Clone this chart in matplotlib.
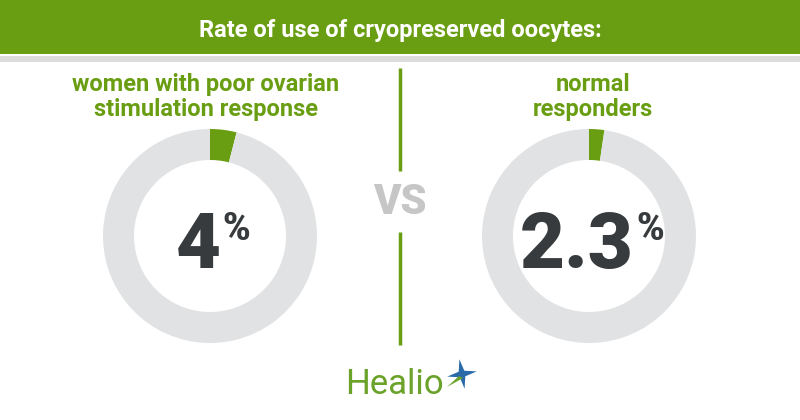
import matplotlib.pyplot as plt
import matplotlib.patches as mpatches
import numpy as np

# data
groups = ['women with poor ovarian\nstimulation response', 'normal\nresponders']
rates = [4, 2.3]
rate_labels = ['4', '2.3']
title = 'Rate of use of cryopreserved oocytes:'

GREEN = '#6a9e12'
RING = '#e1e2e3'
DARK = '#373b3d'
H = 420

fig = plt.figure(figsize=(8, 4.2), dpi=100)
ax = fig.add_axes([0, 0, 1, 1])
ax.set_xlim(0, 800)
ax.set_ylim(0, H)
ax.axis('off')

# header band
ax.add_patch(mpatches.Rectangle((0, H - 54), 800, 54, color=GREEN, lw=0))
ax.add_patch(mpatches.Rectangle((0, H - 62), 800, 6, color='#dcdcdc', lw=0))
ax.text(400, H - 30, title, color='white', fontsize=17, fontweight='bold',
        family='Roboto', ha='center', va='center')

centers = [(210, H - 236), (589, H - 236)]
label_x = [206, 593]

fig.canvas.draw()
r = fig.canvas.get_renderer()

for i in range(2):
    cx, cy = centers[i]
    ax.pie([rates[i], 100 - rates[i]], colors=[GREEN, RING], startangle=90,
           counterclock=False, radius=107, center=(cx, cy),
           wedgeprops=dict(width=31, linewidth=0))
    ax.text(label_x[i], H - 97, groups[i], color=GREEN, fontsize=17,
            fontweight='bold', family='Roboto', ha='center', va='center',
            linespacing=1.1)
    num = ax.text(0, H - 268, rate_labels[i], color=DARK, fontsize=56,
                  fontweight='heavy', family='Roboto', ha='left', va='baseline')
    pct = ax.text(0, H - 240, '%', color=DARK, fontsize=27,
                  fontweight='heavy', family='Roboto', ha='left', va='baseline')
    wn = num.get_window_extent(r).width
    wp = pct.get_window_extent(r).width
    x0 = cx + 3 - (wn + wp + 2) / 2
    num.set_x(x0)
    pct.set_x(x0 + wn + 2)

ax.set_xlim(0, 800)
ax.set_ylim(0, H)
ax.set_aspect('auto')

# divider and VS
ax.plot([400, 400], [H - 68, H - 171], color=GREEN, lw=2.5, solid_capstyle='butt')
ax.plot([400, 400], [H - 232, H - 345], color=GREEN, lw=2.5, solid_capstyle='butt')
ax.text(400, H - 202, 'VS', color='#c6c6c6', fontsize=30, fontweight='heavy',
        family='Roboto', ha='center', va='center')

# logo
ax.text(345, H - 394, 'Healio', color='#6aa22a', fontsize=25, family='Roboto',
        ha='left', va='baseline')
sx, sy = 462, H - 374
ang = np.deg2rad(np.arange(0, 360, 45) + 100)
rad = np.where(np.arange(8) % 2 == 0, 15, 4)
ax.add_patch(mpatches.Polygon(np.c_[sx + rad * np.cos(ang), sy + rad * np.sin(ang)],
                              color='#2a6aa8', lw=0))
ax.add_patch(mpatches.Polygon([(sx - 3, sy - 2), (sx - 15, sy - 13), (sx + 1, sy - 4)],
                              color='#6aa22a', lw=0))

fig.savefig('out.png', dpi=100)
